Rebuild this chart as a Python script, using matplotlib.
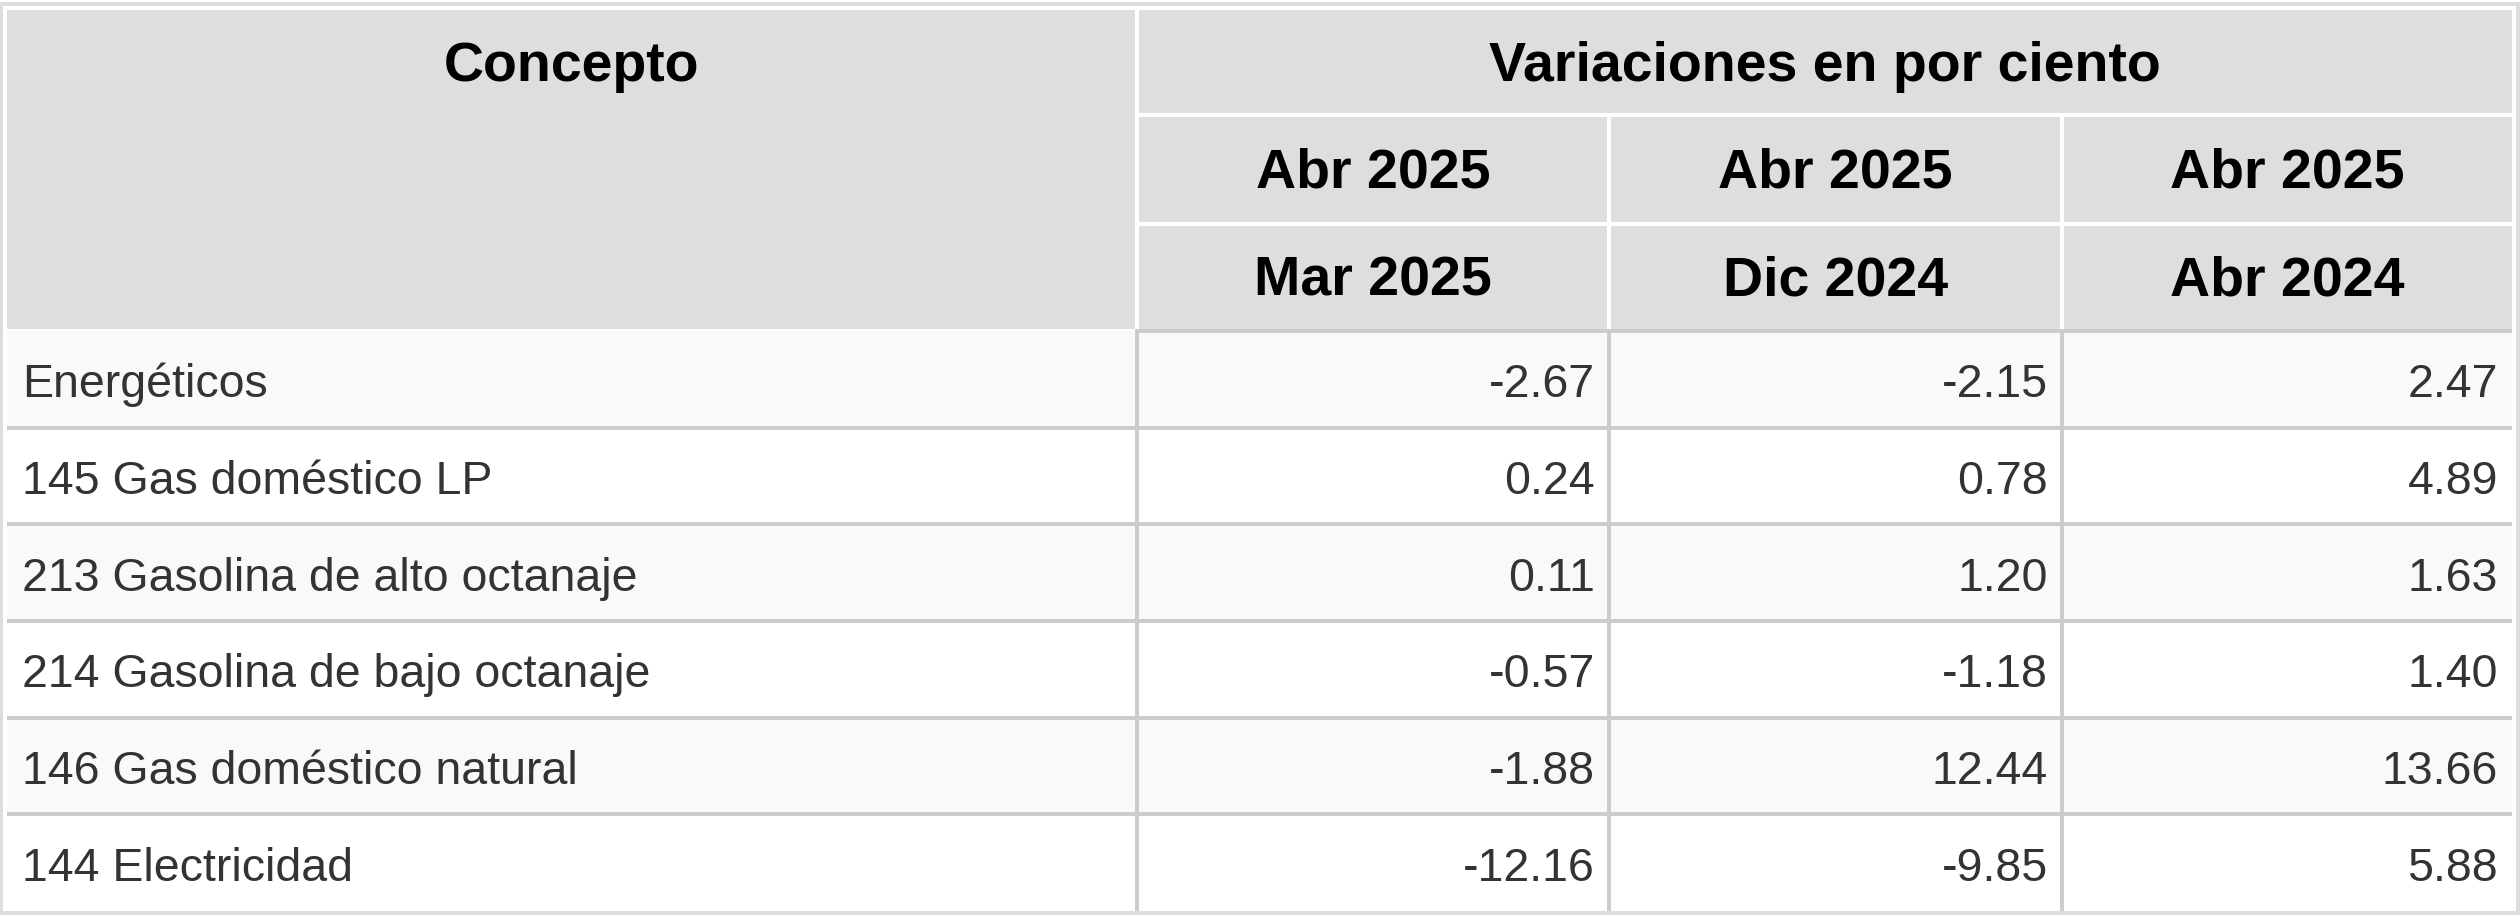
import matplotlib.pyplot as plt
from matplotlib.patches import Rectangle

# table content
conceptos = ['Energéticos', '145 Gas doméstico LP', '213 Gasolina de alto octanaje',
             '214 Gasolina de bajo octanaje', '146 Gas doméstico natural', '144 Electricidad']
var_mensual = [-2.67, 0.24, 0.11, -0.57, -1.88, -12.16]
var_acumulada = [-2.15, 0.78, 1.20, -1.18, 12.44, -9.85]
var_anual = [2.47, 4.89, 1.63, 1.40, 13.66, 5.88]
encabezado_sup = ['Abr 2025', 'Abr 2025', 'Abr 2025']
encabezado_inf = ['Mar 2025', 'Dic 2024', 'Abr 2024']
titulo_concepto = 'Concepto'
titulo_variaciones = 'Variaciones en por ciento'

W, H = 2520, 918
HEADER_BG = '#dedede'
STRIPE_BG = '#f9f9f9'
LINE = '#cccccc'
BORDER = '#dddddd'
FONT = 'Liberation Sans'

# layout (pixels)
left, right, top, bottom = 7, 2512, 10, 911
col_lines = [1137, 1609, 2062]
head_lines = [115, 224, 331]
lw = 4
h = lw / 2

xb = [left] + col_lines + [right]
data_top = head_lines[-1]
n = len(conceptos)
row_h = (bottom - data_top) / n
row_lines = [data_top + row_h * (i + 1) for i in range(n - 1)]


def rect(ax, x0, y0, x1, y1, color):
    ax.add_patch(Rectangle((x0, y0), x1 - x0, y1 - y0, facecolor=color,
                           edgecolor='none', linewidth=0))


fig = plt.figure(figsize=(W / 100, H / 100), dpi=100)
ax = fig.add_axes([0, 0, 1, 1])
ax.set_xlim(0, W)
ax.set_ylim(H, 0)
ax.axis('off')

# outer border
rect(ax, 0, 2, W, 6, BORDER)
rect(ax, 0, bottom, W, bottom + 4, BORDER)
rect(ax, 0, 2, 3, bottom + 4, BORDER)
rect(ax, 2516, 2, W, bottom + 4, BORDER)

# header cells
rect(ax, left, top, col_lines[0] - h, head_lines[2] - h, HEADER_BG)
rect(ax, col_lines[0] + h, top, right, head_lines[0] - h, HEADER_BG)
for j in range(3):
    x0 = xb[j + 1] + h
    x1 = xb[j + 2] - (h if j < 2 else 0)
    rect(ax, x0, head_lines[0] + h, x1, head_lines[1] - h, HEADER_BG)
    rect(ax, x0, head_lines[1] + h, x1, head_lines[2] - h, HEADER_BG)

hfs = 40
hoff = 18.5
ax.text((left + col_lines[0]) / 2, (top + head_lines[0]) / 2 + hoff, titulo_concepto,
        ha='center', va='baseline', fontsize=hfs, fontweight='bold', family=FONT, color='black')
ax.text((col_lines[0] + right) / 2, (top + head_lines[0]) / 2 + hoff, titulo_variaciones,
        ha='center', va='baseline', fontsize=hfs, fontweight='bold', family=FONT, color='black')
for j in range(3):
    cx = (xb[j + 1] + xb[j + 2]) / 2
    ax.text(cx, (head_lines[0] + head_lines[1]) / 2 + hoff, encabezado_sup[j],
            ha='center', va='baseline', fontsize=hfs, fontweight='bold', family=FONT, color='black')
    ax.text(cx, (head_lines[1] + head_lines[2]) / 2 + hoff, encabezado_inf[j],
            ha='center', va='baseline', fontsize=hfs, fontweight='bold', family=FONT, color='black')

# data rows
for i in range(n):
    y0 = data_top + row_h * i
    if i % 2 == 0:
        rect(ax, left, y0, right, y0 + row_h, STRIPE_BG)

# grid lines
rect(ax, col_lines[0] + h, data_top - h, right, data_top + h, LINE)
for y in row_lines:
    rect(ax, left, y - h, right, y + h, LINE)
for x in col_lines:
    rect(ax, x - h, data_top - h, x + h, bottom, LINE)

dfs = 33.5
columnas = [var_mensual, var_acumulada, var_anual]
for i, nombre in enumerate(conceptos):
    yb = data_top + row_h * (i + 0.5) + 18
    ax.text(left + 15, yb, nombre, ha='left', va='baseline', fontsize=dfs,
            family=FONT, color='#333333')
    for j, col in enumerate(columnas):
        ax.text(xb[j + 2] - 14, yb, f'{col[i]:.2f}', ha='right', va='baseline',
                fontsize=dfs, family=FONT, color='#333333')

fig.savefig('out.png', dpi=100, facecolor='white')
